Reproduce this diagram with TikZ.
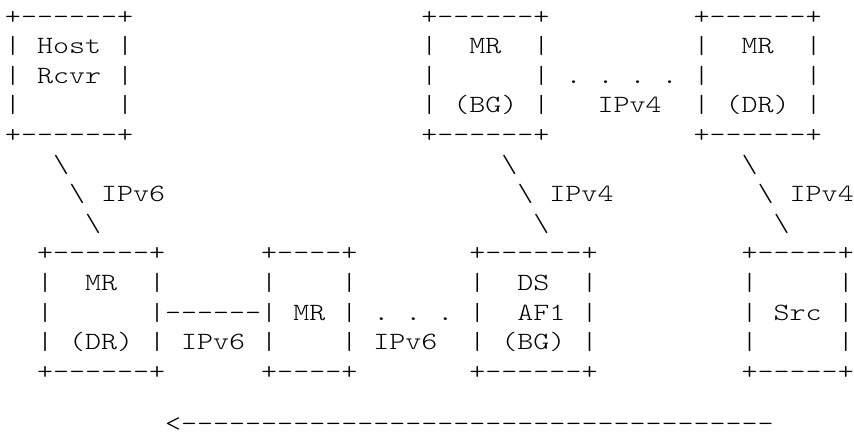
\documentclass[tikz,border=0pt]{standalone}
\usepackage{fontspec}
\setmonofont{lmmonolt10-regular.otf}[FakeStretch=1.23]
\newcommand\ascfont{\ttfamily\fontsize{18.6pt}{24pt}\selectfont}
\newcommand\sk[1]{\hspace*{#1\fontcharwd\font`x}}
\newcommand\bks{\textbackslash}
\newcommand\dd[1]{\foreach\i in {1,...,#1}{-\kern0pt}}
\tikzset{asc/.style={anchor=base west, inner sep=0pt, outer sep=0pt, font=\ascfont, text=black}}
\begin{document}
\begin{tikzpicture}[x=0.75pt,y=-0.75pt]
\useasboundingbox (0,0) rectangle (854,432);
\fill[white] (0,0) rectangle (854,432);
\def\bx{5}
\node[asc] (row1)  at (\bx, 24.0) {+\dd6+\sk{18}+\dd6+\sk9+\dd6+};
\node[asc] (row2)  at (\bx, 53.6) {|\sk1Host\sk1|\sk{18}|\sk2MR\sk2|\sk9|\sk2MR\sk2|};
\node[asc] (row3)  at (\bx, 83.2) {|\sk1Rcvr\sk1|\sk{18}|\sk6|\sk1.\sk1.\sk1.\sk1.\sk1|\sk6|};
\node[asc] (row4)  at (\bx,112.8) {|\sk6|\sk{18}|\sk1(BG)\sk1|\sk3IPv4\sk2|\sk1(DR)\sk1|};
\node[asc] (row5)  at (\bx,142.4) {+\dd6+\sk{18}+\dd6+\sk9+\dd6+};
\node[asc] (row6)  at (\bx,172.0) {\sk3\bks\sk{27}\bks\sk{14}\bks};
\node[asc] (row7)  at (\bx,201.6) {\sk4\bks\sk1IPv6\sk{22}\bks\sk1IPv4\sk9\bks\sk1IPv4};
\node[asc] (row8)  at (\bx,231.2) {\sk5\bks\sk{27}\bks\sk{14}\bks};
\node[asc] (row9)  at (\bx,260.8) {\sk2+\dd6+\sk6+\dd4+\sk7+\dd6+\sk9+\dd5+};
\node[asc] (row10) at (\bx,290.4) {\sk2|\sk2MR\sk2|\sk6|\sk4|\sk7|\sk2DS\sk2|\sk9|\sk5|};
\node[asc] (row11) at (\bx,320.0) {\sk2|\sk6|\dd6|\sk1MR\sk1|\sk1.\sk1.\sk1.\sk1|\sk2AF1\sk1|\sk9|\sk1Src\sk1|};
\node[asc] (row12) at (\bx,349.6) {\sk2|\sk1(DR)\sk1|\sk1IPv6\sk1|\sk4|\sk1IPv6\sk2|\sk1(BG)\sk1|\sk9|\sk5|};
\node[asc] (row13) at (\bx,379.2) {\sk2+\dd6+\sk6+\dd4+\sk7+\dd6+\sk9+\dd5+};
\node[asc, text depth=0pt] (row15) at (\bx,431.5) {\sk{10}<\dd{37}};
\end{tikzpicture}
\end{document}
